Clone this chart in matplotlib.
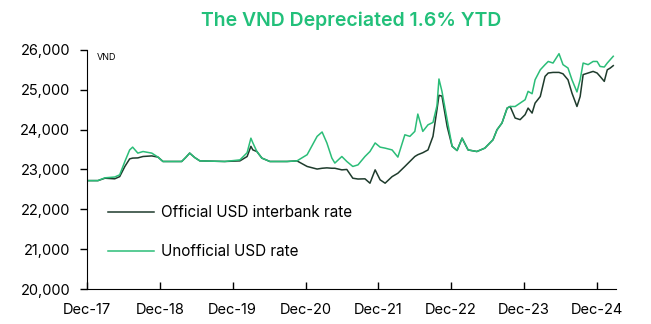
import matplotlib
matplotlib.use("Agg")
import matplotlib.pyplot as plt
import pandas as pd

plt.rcParams["font.family"] = ["Inter", "DejaVu Sans"]

# Data (VND per USD)
dates = [
    "2017-12-01", "2018-01-25", "2018-03-01", "2018-04-19", "2018-05-14", "2018-06-09",
    "2018-07-03", "2018-07-18", "2018-08-13", "2018-09-08", "2018-10-22", "2018-11-22",
    "2018-12-17", "2019-03-21", "2019-04-10", "2019-04-30", "2019-05-25", "2019-06-20",
    "2019-10-23", "2020-01-07", "2020-02-12", "2020-03-02", "2020-03-12", "2020-04-01",
    "2020-04-26", "2020-06-05", "2020-08-30", "2020-10-19", "2020-12-09", "2021-01-28",
    "2021-02-22", "2021-03-18", "2021-04-12", "2021-04-27", "2021-06-01", "2021-06-26",
    "2021-07-26", "2021-08-21", "2021-09-25", "2021-10-20", "2021-11-15", "2021-12-10",
    "2022-01-04", "2022-02-08", "2022-03-09", "2022-04-13", "2022-05-08", "2022-06-02",
    "2022-06-17", "2022-07-12", "2022-08-07", "2022-09-01", "2022-09-21", "2022-10-01",
    "2022-10-16", "2022-11-11", "2022-12-06", "2022-12-31", "2023-01-25", "2023-02-24",
    "2023-04-09", "2023-05-19", "2023-06-29", "2023-07-19", "2023-08-13", "2023-09-08",
    "2023-09-23", "2023-10-18", "2023-11-12", "2023-12-07", "2023-12-22", "2024-01-11",
    "2024-01-26", "2024-02-21", "2024-03-16", "2024-04-01", "2024-04-25", "2024-05-25",
    "2024-06-14", "2024-07-09", "2024-07-29", "2024-08-23", "2024-09-08", "2024-09-23",
    "2024-10-18", "2024-11-12", "2024-12-02", "2024-12-17", "2025-01-07", "2025-01-22",
    "2025-02-06", "2025-02-21",
]
official = [
    22720, 22720, 22780, 22765, 22820, 23075, 23265, 23285, 23290, 23325, 23340, 23310,
    23200, 23200, 23300, 23410, 23300, 23215, 23200, 23215, 23325, 23580, 23490, 23450,
    23285, 23200, 23200, 23215, 23075, 23010, 23030, 23040, 23030, 23030, 22990, 23000,
    22780, 22760, 22765, 22655, 22990, 22740, 22655, 22820, 22905, 23075, 23200, 23325,
    23370, 23420, 23490, 23830, 24500, 24860, 24840, 24080, 23580, 23475, 23785, 23490,
    23450, 23535, 23745, 23995, 24165, 24540, 24580, 24290, 24250, 24375, 24540, 24415,
    24665, 24830, 25335, 25420, 25435, 25435, 25400, 25250, 24915, 24580, 24830, 25380,
    25420, 25460, 25420, 25335, 25210, 25500, 25545, 25605,
]
unofficial = [
    22720, 22720, 22790, 22810, 22865, 23200, 23490, 23560, 23410, 23450, 23410, 23310,
    23200, 23200, 23300, 23410, 23300, 23215, 23200, 23240, 23420, 23785, 23665, 23450,
    23285, 23200, 23200, 23215, 23370, 23830, 23940, 23665, 23285, 23160, 23325, 23200,
    23075, 23115, 23325, 23450, 23665, 23560, 23535, 23490, 23310, 23870, 23830, 23955,
    24390, 23955, 24120, 24180, 24600, 25270, 24960, 24250, 23580, 23475, 23785, 23490,
    23450, 23535, 23745, 23995, 24165, 24540, 24580, 24580, 24665, 24750, 24960, 24900,
    25250, 25500, 25630, 25710, 25670, 25905, 25630, 25545, 25250, 24945, 25250, 25670,
    25630, 25710, 25710, 25585, 25570, 25670, 25755, 25840,
]
tick_dates = ["2017-12-01", "2018-12-01", "2019-12-01", "2020-12-01",
              "2021-12-01", "2022-12-01", "2023-12-01", "2024-12-01"]
tick_labels = ["Dec-17", "Dec-18", "Dec-19", "Dec-20", "Dec-21", "Dec-22", "Dec-23", "Dec-24"]
y_ticks = [20000, 21000, 22000, 23000, 24000, 25000, 26000]

dark = "#1e3b2c"
green = "#2bbd78"

x = pd.to_datetime(dates)

fig = plt.figure(figsize=(6.51, 3.24), dpi=100)
ax = fig.add_axes([0.1336, 0.108, 0.8124, 0.738])

ax.plot(x, official, color=dark, lw=1.1, label="Official USD interbank rate")
ax.plot(x, unofficial, color=green, lw=1.1, label="Unofficial USD rate")

ax.set_ylim(20000, 26000)
ax.set_xlim(pd.Timestamp("2017-12-01"), pd.Timestamp("2025-03-06"))
ax.set_yticks(y_ticks)
ax.set_yticklabels([f"{v:,}" for v in y_ticks])
ax.set_xticks(pd.to_datetime(tick_dates))
ax.set_xticklabels(tick_labels)

ax.spines["top"].set_visible(False)
ax.spines["right"].set_visible(False)
ax.tick_params(axis="y", direction="out", length=5, width=1, pad=7, labelsize=10.5)
ax.tick_params(axis="x", direction="in", length=5, width=1, pad=10, labelsize=10.5)

ax.text(0.018, 0.985, "VND", transform=ax.transAxes, fontsize=6.5, va="top", ha="left")

ax.legend(loc="upper left", bbox_to_anchor=(0.04, 0.35), frameon=False,
          fontsize=11, handlelength=3.0, handletextpad=0.45, labelspacing=1.55,
          borderpad=0, borderaxespad=0)

ax.set_title("The VND Depreciated 1.6% YTD", color="#22c07a", fontsize=14,
             fontweight="semibold", pad=17)

fig.savefig("out.png", dpi=100)
